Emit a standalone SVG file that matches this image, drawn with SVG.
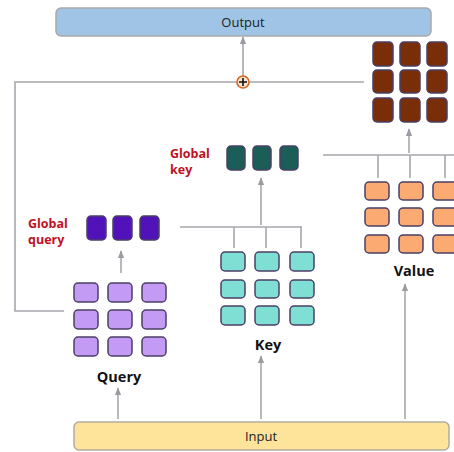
<svg xmlns="http://www.w3.org/2000/svg" width="454" height="452" viewBox="0 0 454 452">
<defs>
<marker id="arr" viewBox="0 0 10 10" refX="9" refY="5" markerWidth="5" markerHeight="5" orient="auto-start-reverse">
<path d="M0,1 L10,5 L0,9 z" fill="#9e9aa3"/>
</marker>
<style>
.ln{stroke:#a9a6ad;stroke-width:1.6;fill:none}
.ar{stroke:#a9a6ad;stroke-width:1.6;fill:none;marker-end:url(#arr)}
.c{stroke:#4b3f66;stroke-width:1.5}
.br{fill:#7a2e07}
.or{fill:#fbaa72}
.tl{fill:#7fdfd4}
.dt{fill:#1b5e58}
.dp{fill:#5212b9}
.lp{fill:#c39af4}
.lbl{font-family:"Open Sans","Noto Sans",sans-serif;font-weight:700;font-size:14.5px;fill:#111;text-anchor:middle}
.red{font-family:"Open Sans","Noto Sans",sans-serif;font-weight:700;font-size:12.5px;fill:#c0101e}
.box{font-family:"Open Sans","Noto Sans",sans-serif;font-size:13px;fill:#222;text-anchor:middle}
</style>
</defs>
<g id="connectors">
<path class="ar" d="M243,76 V37"/>
<path class="ln" d="M237,82 H15 V311 H64"/>
<path class="ln" d="M249,82 H364"/>
<path class="ar" d="M409,153 V129"/>
<path class="ln" d="M323,155 H454 M378,155 V178 M410,155 V178 M445,155 V178"/>
<path class="ar" d="M261,225 V178"/>
<path class="ln" d="M180,227 H302 M234,227 V248 M266,227 V248 M301,227 V248"/>
<path class="ar" d="M121,273 V251"/>
<path class="ar" d="M118,419 V388"/>
<path class="ar" d="M261,419 V356"/>
<path class="ar" d="M405,419 V284"/>
</g>
<g id="output">
<rect x="56" y="8" width="375" height="28" rx="5" fill="#9fc4e6" stroke="#a9a9ab" stroke-width="1.5"/>
<text class="box" x="243" y="27">Output</text>
</g>
<g id="add">
<circle cx="243" cy="82" r="6" fill="#fbe3cf" stroke="#d8651c" stroke-width="1.6"/>
<path d="M239,82 H247 M243,78 V86" stroke="#111" stroke-width="1.6"/>
</g>
<g id="value-out">
<rect class="c br" x="373" y="42" width="20" height="24" rx="4"/>
<rect class="c br" x="400" y="42" width="20" height="24" rx="4"/>
<rect class="c br" x="427" y="42" width="20" height="24" rx="4"/>
<rect class="c br" x="373" y="70" width="20" height="23" rx="4"/>
<rect class="c br" x="400" y="70" width="20" height="23" rx="4"/>
<rect class="c br" x="427" y="70" width="20" height="23" rx="4"/>
<rect class="c br" x="373" y="98" width="20" height="24" rx="4"/>
<rect class="c br" x="400" y="98" width="20" height="24" rx="4"/>
<rect class="c br" x="427" y="98" width="20" height="24" rx="4"/>
</g>
<g id="value">
<rect class="c or" x="365" y="182" width="24" height="18" rx="4"/>
<rect class="c or" x="399" y="182" width="24" height="18" rx="4"/>
<rect class="c or" x="433" y="182" width="24" height="18" rx="4"/>
<rect class="c or" x="365" y="208" width="24" height="18" rx="4"/>
<rect class="c or" x="399" y="208" width="24" height="18" rx="4"/>
<rect class="c or" x="433" y="208" width="24" height="18" rx="4"/>
<rect class="c or" x="365" y="235" width="24" height="18" rx="4"/>
<rect class="c or" x="399" y="235" width="24" height="18" rx="4"/>
<rect class="c or" x="433" y="235" width="24" height="18" rx="4"/>
<text class="lbl" x="414" y="276">Value</text>
</g>
<g id="global-key">
<rect class="c dt" x="227" y="146" width="18" height="24" rx="4"/>
<rect class="c dt" x="253" y="146" width="18" height="24" rx="4"/>
<rect class="c dt" x="280" y="146" width="18" height="24" rx="4"/>
<text class="red" x="170" y="158">Global</text>
<text class="red" x="170" y="174">key</text>
</g>
<g id="key">
<rect class="c tl" x="221" y="252" width="24" height="19" rx="4"/>
<rect class="c tl" x="255" y="252" width="24" height="19" rx="4"/>
<rect class="c tl" x="290" y="252" width="24" height="19" rx="4"/>
<rect class="c tl" x="221" y="280" width="24" height="18" rx="4"/>
<rect class="c tl" x="255" y="280" width="24" height="18" rx="4"/>
<rect class="c tl" x="290" y="280" width="24" height="18" rx="4"/>
<rect class="c tl" x="221" y="306" width="24" height="19" rx="4"/>
<rect class="c tl" x="255" y="306" width="24" height="19" rx="4"/>
<rect class="c tl" x="290" y="306" width="24" height="19" rx="4"/>
<text class="lbl" x="268" y="350">Key</text>
</g>
<g id="global-query">
<rect class="c dp" x="87" y="216" width="19" height="24" rx="4"/>
<rect class="c dp" x="113" y="216" width="19" height="24" rx="4"/>
<rect class="c dp" x="140" y="216" width="19" height="24" rx="4"/>
<text class="red" x="28" y="228">Global</text>
<text class="red" x="28" y="244">query</text>
</g>
<g id="query">
<rect class="c lp" x="74" y="283" width="24" height="19" rx="4"/>
<rect class="c lp" x="108" y="283" width="24" height="19" rx="4"/>
<rect class="c lp" x="142" y="283" width="24" height="19" rx="4"/>
<rect class="c lp" x="74" y="310" width="24" height="19" rx="4"/>
<rect class="c lp" x="108" y="310" width="24" height="19" rx="4"/>
<rect class="c lp" x="142" y="310" width="24" height="19" rx="4"/>
<rect class="c lp" x="74" y="337" width="24" height="19" rx="4"/>
<rect class="c lp" x="108" y="337" width="24" height="19" rx="4"/>
<rect class="c lp" x="142" y="337" width="24" height="19" rx="4"/>
<text class="lbl" x="119" y="382">Query</text>
</g>
<g id="input">
<rect x="74" y="422" width="375" height="28" rx="5" fill="#fde49a" stroke="#b2aca0" stroke-width="1.5"/>
<text class="box" x="261" y="441">Input</text>
</g>
</svg>
